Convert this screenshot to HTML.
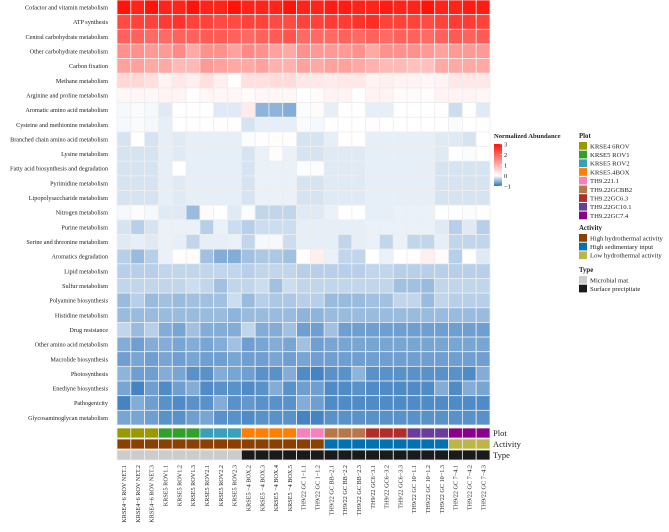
<!DOCTYPE html>
<html><head><meta charset="utf-8"><style>
html,body{margin:0;padding:0;background:#fff;}
svg text{font-family:"Liberation Serif",serif;fill:#222;}
</style></head><body>
<svg id="chart" width="669" height="527" viewBox="0 0 669 527" xmlns="http://www.w3.org/2000/svg">
<g id="cells"></g>
<g id="rowlabels"></g>
<g id="annots"></g>
<g id="collabels"></g>
<g id="legend"></g>
</svg>
<script>
const rows = ["Cofactor and vitamin metabolism","ATP synthesis","Central carbohydrate metabolism","Other carbohydrate metabolism","Carbon fixation","Methane metabolism","Arginine and proline metabolism","Aromatic amino acid metabolism","Cysteine and methionine metabolism","Branched chain amino acid metabolism","Lysine metabolism","Fatty acid biosynthesis and degradation","Pyrimidine metabolism","Lipopolysaccharide metabolism","Nitrogen metabolism","Purine metabolism","Serine and threonine metabolism","Aromatics degradation","Lipid metabolism","Sulfur metabolism","Polyamine biosynthesis","Histidine metabolism","Drug resistance","Other amino acid metabolism","Macrolide biosynthesis","Photosynthesis","Enediyne biosynthesis","Pathogenicity","Glycosaminoglycan metabolism"];
const columns = ["KRSE4\u22126 ROV NET.1","KRSE4\u22126 ROV NET.2","KRSE4\u22126 ROV NET.3","KRSE5 ROV1.1","KRSE5 ROV1.2","KRSE5 ROV1.3","KRSE5 ROV2.1","KRSE5 ROV2.2","KRSE5 ROV2.3","KRSE5 \u22124 BOX.2","KRSE5 \u22124 BOX.3","KRSE5 \u22124 BOX.4","KRSE5 \u22124 BOX.5","TH9/22 GC 1\u22121.1","TH9/22 GC 1\u22121.2","TH9/22 GC BB\u22122.1","TH9/22 GC BB\u22122.2","TH9/22 GC BB\u22122.3","TH9/22 GC6\u22123.1","TH9/22 GC6\u22123.2","TH9/22 GC6\u22123.3","TH9/22 GC 10\u22121.1","TH9/22 GC 10\u22121.2","TH9/22 GC 10\u22121.3","TH9/22 GC 7\u22124.1","TH9/22 GC 7\u22124.2","TH9/22 GC 7\u22124.3"];
const plotGroup = [0,0,0,1,1,1,2,2,2,3,3,3,3,4,4,5,5,5,6,6,6,7,7,7,8,8,8];
const activityGroup = [0,0,0,0,0,0,0,0,0,0,0,0,0,0,0,1,1,1,1,1,1,1,1,1,2,2,2];
const typeGroup = [0,0,0,0,0,0,0,0,0,1,1,1,1,1,1,1,1,1,1,1,1,1,1,1,1,1,1];
const plotNames = ["KRSE4 6ROV","KRSE5 ROV1","KRSE5 ROV2","KRSE5.4BOX","TH9.221.1","TH9.22GCBB2","TH9.22GC6.3","TH9.22GC10.1","TH9.22GC7.4"];
const activityNames = ["High hydrothermal activity","High sedimentary input","Low hydrothermal activity"];
const typeNames = ["Microbial mat","Surface precipitate"];
const colorTicks = [3,2,1,0,-1];
const values = [
[3,2.8,3,2.8,2.8,3,2.8,2.8,3,2.8,2.8,2.8,3,2.8,2.8,2.9,2.9,2.8,2.8,2.9,2.8,2.8,3,2.8,2.8,2.9,2.9],
[2.3,2.4,2.4,2.5,2.6,2.4,2.4,2.3,2.3,2.4,2.4,2.3,2.3,2.4,2.4,2.5,2.5,2.6,2.7,2.4,2.4,2.4,2.3,2.4,2.5,2.5,2.4],
[2.0,2.0,1.9,1.9,2.0,2.0,2.1,2.1,2.0,1.9,2.0,2.1,2.2,1.9,1.9,1.9,2.0,1.9,2.0,1.9,2.0,2.0,1.9,2.0,2.1,2.0,2.1],
[1.4,1.4,1.3,1.3,1.5,1.1,1.4,1.4,1.2,1.5,1.4,1.2,1.1,1.4,1.3,1.3,1.3,1.4,1.1,1.4,1.4,1.4,1.3,1.2,1.3,1.3,1.3],
[1.2,1.2,1.1,1.1,0.9,0.9,1.3,1.2,1.1,1.1,1.2,1.0,1.0,1.2,1.1,1.2,1.2,1.1,1.0,0.9,0.9,0.8,0.8,1.1,1.1,1.1,1.1],
[0.5,0.5,0.4,0.15,0.3,0.2,0.4,0.2,0,0.4,0.4,0.45,0.45,0.3,0.3,0.25,0.3,0.3,0.15,0.2,0.15,0.15,0.1,0.15,0.3,0.3,0.3],
[0.1,0.12,0.1,0.15,0.15,0.02,0.12,0.1,0.1,0.05,0.1,0.12,0.1,0,0.05,0.15,0.15,0,0.15,0.15,0.05,0.05,0.02,0.15,0.15,0.15,0.1],
[-0.05,-0.03,-0.05,-0.15,0,0.02,0,-0.15,-0.15,0.25,-0.55,-0.55,-0.6,-0.02,0.05,-0.12,0,0,-0.12,-0.12,0,0,0,0,-0.25,0,-0.15],
[-0.05,-0.03,-0.05,-0.12,0,0.02,0,0.02,0.03,-0.2,-0.12,-0.12,-0.12,-0.03,-0.05,0,0,0,0.02,0,0,0,0,0,-0.03,0,0],
[-0.2,0,-0.2,-0.12,-0.15,-0.12,-0.12,-0.12,-0.12,-0.02,0.03,0.03,0.03,-0.2,-0.2,-0.12,0,0,-0.12,-0.12,-0.12,-0.12,-0.12,-0.15,-0.15,-0.2,0],
[-0.2,-0.2,-0.2,-0.12,-0.15,-0.12,-0.12,-0.12,-0.12,-0.2,-0.1,0.04,-0.1,-0.2,-0.2,-0.15,-0.15,-0.15,-0.12,-0.12,-0.12,-0.12,-0.12,-0.15,0,-0.02,0],
[-0.2,-0.2,-0.2,-0.12,0,-0.12,-0.12,-0.12,-0.12,-0.2,-0.1,-0.1,-0.1,-0.02,-0.02,-0.15,-0.15,-0.15,-0.12,-0.12,-0.12,-0.12,-0.12,-0.2,-0.2,-0.2,-0.2],
[-0.2,-0.2,-0.2,-0.12,-0.15,-0.12,-0.12,-0.12,-0.12,-0.2,-0.1,-0.1,-0.1,-0.2,-0.2,-0.15,-0.15,-0.15,-0.12,-0.12,-0.12,-0.12,-0.12,-0.2,-0.2,-0.2,-0.2],
[-0.2,-0.2,-0.2,-0.12,-0.15,-0.12,-0.12,-0.12,-0.12,-0.2,-0.1,-0.1,-0.1,-0.2,-0.2,-0.15,-0.15,-0.15,-0.12,-0.12,-0.12,-0.12,-0.12,-0.2,-0.2,-0.2,-0.2],
[-0.05,-0.02,-0.05,-0.15,-0.15,-0.5,0.05,0,-0.15,-0.02,-0.3,-0.3,-0.3,-0.15,-0.15,-0.1,0,0,-0.12,-0.12,-0.1,-0.1,-0.1,0,0,-0.02,0],
[-0.2,-0.35,-0.2,-0.1,-0.1,-0.1,-0.35,-0.1,-0.25,-0.35,-0.25,-0.25,-0.25,-0.12,-0.12,-0.12,-0.12,-0.12,-0.1,-0.1,-0.1,-0.1,-0.1,-0.15,-0.35,-0.15,-0.35],
[-0.15,-0.12,-0.15,-0.1,-0.12,-0.3,-0.12,-0.12,-0.1,-0.3,-0.05,-0.05,-0.25,-0.12,-0.12,-0.12,-0.3,-0.12,-0.1,-0.3,-0.1,-0.3,-0.3,-0.12,-0.3,-0.3,-0.3],
[-0.35,-0.5,-0.35,-0.1,0.02,0.05,-0.45,-0.6,-0.6,-0.45,-0.4,-0.4,-0.45,0,0.2,-0.1,-0.3,-0.3,0,-0.1,0,0.02,0.2,0.05,-0.35,0,-0.15],
[-0.35,-0.35,-0.35,-0.3,-0.3,-0.3,-0.3,-0.3,-0.3,-0.35,-0.3,-0.3,-0.3,-0.35,-0.35,-0.35,-0.35,-0.35,-0.3,-0.3,-0.35,-0.35,-0.35,-0.35,-0.35,-0.35,-0.35],
[-0.3,-0.3,-0.3,-0.3,-0.3,-0.25,-0.3,-0.45,-0.3,-0.3,-0.25,-0.45,-0.25,-0.3,-0.3,-0.3,-0.3,-0.3,-0.3,-0.3,-0.45,-0.45,-0.5,-0.3,-0.3,-0.3,-0.3],
[-0.5,-0.35,-0.5,-0.45,-0.5,-0.45,-0.45,-0.45,-0.25,-0.5,-0.35,-0.4,-0.4,-0.35,-0.35,-0.5,-0.5,-0.5,-0.45,-0.45,-0.3,-0.3,-0.5,-0.3,-0.35,-0.35,-0.35],
[-0.5,-0.5,-0.5,-0.5,-0.5,-0.5,-0.5,-0.5,-0.55,-0.5,-0.5,-0.5,-0.5,-0.55,-0.55,-0.5,-0.5,-0.5,-0.5,-0.5,-0.5,-0.5,-0.5,-0.5,-0.5,-0.5,-0.5],
[-0.3,-0.5,-0.35,-0.6,-0.65,-0.45,-0.6,-0.6,-0.6,-0.3,-0.6,-0.6,-0.45,-0.7,-0.7,-0.45,-0.7,-0.7,-0.7,-0.7,-0.7,-0.7,-0.7,-0.7,-0.7,-0.7,-0.7],
[-0.6,-0.7,-0.6,-0.6,-0.65,-0.6,-0.65,-0.6,-0.45,-0.7,-0.65,-0.6,-0.65,-0.45,-0.7,-0.65,-0.65,-0.65,-0.65,-0.65,-0.65,-0.65,-0.65,-0.65,-0.65,-0.65,-0.65],
[-0.7,-0.65,-0.7,-0.65,-0.7,-0.65,-0.7,-0.7,-0.65,-0.7,-0.7,-0.65,-0.7,-0.65,-0.7,-0.7,-0.7,-0.7,-0.7,-0.7,-0.7,-0.7,-0.7,-0.7,-0.7,-0.7,-0.7],
[-0.55,-0.7,-0.7,-0.6,-0.65,-0.8,-0.8,-0.6,-0.65,-0.7,-0.8,-0.8,-0.6,-0.85,-0.9,-0.8,-0.8,-0.55,-0.8,-0.8,-0.8,-0.8,-0.8,-0.8,-0.8,-0.85,-0.6],
[-0.65,-0.9,-0.7,-0.85,-0.7,-0.6,-0.85,-0.8,-0.8,-0.85,-0.8,-0.6,-0.8,-0.7,-0.7,-0.85,-0.85,-0.8,-0.85,-0.85,-0.85,-0.85,-0.85,-0.6,-0.85,-0.6,-0.65],
[-0.9,-0.6,-0.7,-0.8,-0.85,-0.8,-0.8,-0.6,-0.8,-0.75,-0.8,-0.8,-0.8,-0.6,-0.7,-0.85,-0.85,-0.85,-0.85,-0.85,-0.85,-0.85,-0.85,-0.85,-0.85,-0.85,-0.85],
[-0.65,-0.65,-0.7,-0.8,-0.8,-0.7,-0.65,-0.8,-0.8,-0.85,-0.8,-0.8,-0.8,-0.9,-0.9,-0.8,-0.8,-0.8,-0.8,-0.8,-0.8,-0.8,-0.8,-0.8,-0.8,-0.8,-0.8]
];
const plotColors = ["#999900","#33a02c","#3a9fba","#ff7f00","#f781bf","#b87748","#b22c2c","#6a3d9a","#8b008b"];
const activityColors = ["#8b4000","#0072b2","#bdb642"];
const typeColors = ["#cccccc","#1a1a1a"];
const NS="http://www.w3.org/2000/svg";
const X0=117, X1=490, Y0=0, Y1=425;
const cw=(X1-X0)/columns.length, rh=(Y1-Y0)/rows.length;
const xPos=i=>X0+i*cw, yPos=j=>Y0+j*rh;
function mk(tag,attrs,parent){const e=document.createElementNS(NS,tag);for(const k in attrs)e.setAttribute(k,attrs[k]);parent.appendChild(e);return e;}
function lerp(a,b,t){return Math.round(a+(b-a)*t);}
function colorOf(v){
  if(v>=0){const t=Math.min(v/3,1);return `rgb(255,${lerp(255,20,t)},${lerp(255,10,t)})`;}
  const t=Math.min(-v,1);return `rgb(${lerp(255,48,t)},${lerp(255,118,t)},${lerp(255,188,t)})`;
}
const gC=document.getElementById('cells');
values.forEach((row,j)=>row.forEach((v,i)=>{
  const r=mk('rect',{x:xPos(i),y:yPos(j),width:cw,height:rh,fill:colorOf(v),stroke:'#eeeeee','stroke-width':0.8},gC);
  
  
}));
const gR=document.getElementById('rowlabels');
rows.forEach((n,j)=>{
  const t=mk('text',{x:108,y:yPos(j)+rh/2+2.2,'text-anchor':'end','font-size':6.2},gR);
  t.textContent=n;
  
  
});
const gA=document.getElementById('annots');
const annRows=[[plotGroup,plotColors,428,"Plot"],[activityGroup,activityColors,439,"Activity"],[typeGroup,typeColors,450,"Type"]];
annRows.forEach(([grp,cols,y,name])=>{
  grp.forEach((g,i)=>{
    const r=mk('rect',{x:xPos(i),y:y,width:cw,height:10,fill:cols[g],stroke:'#eeeeee','stroke-width':0.8},gA);
    
    
  });
  const t=mk('text',{x:X1+3,y:y+8,'font-size':8.5},gA);
  t.textContent=name;
  
  
});
const gL=document.getElementById('collabels');
columns.forEach((n,i)=>{
  const cx=xPos(i)+cw/2+2.2;
  const t=mk('text',{x:cx,y:465,transform:`rotate(-90 ${cx} 465)`,'text-anchor':'end','font-size':6.2},gL);
  t.textContent=n;
  
  
});
const gG=document.getElementById('legend');
const defs=mk('defs',{},gG);
const lg=mk('linearGradient',{id:'cg',x1:0,y1:0,x2:0,y2:1},defs);
[[0,3],[0.25,2],[0.5,1],[0.75,0],[1,-1]].forEach(([o,v])=>mk('stop',{offset:o,'stop-color':colorOf(v)},lg));
let t=mk('text',{x:494,y:138,'font-size':6.6,'font-weight':'bold'},gG);t.textContent="Normalized Abundance";


const cbTop=144, cbBot=186;
const cbY=v=>cbTop+(3-v)/4*(cbBot-cbTop);
const cb=mk('rect',{x:494,y:cbTop,width:8,height:cbBot-cbTop,fill:'url(#cg)'},gG);


colorTicks.forEach(v=>{
  const y=cbY(v);
  mk('line',{x1:500,x2:502,y1:y,y2:y,stroke:'#fff','stroke-width':0.6},gG);
  const tt=mk('text',{x:504,y:y+2.5,'font-size':6.5},gG);
  tt.textContent=v<0?'\u2212'+(-v):String(v);
  
  
});
function legendBlock(title,names,cols,y0){
  const h=mk('text',{x:579,y:y0,'font-size':6.8,'font-weight':'bold'},gG);h.textContent=title;
  
  
  names.forEach((n,k)=>{
    const y=y0+4+k*8.7;
    const s=mk('rect',{x:579,y:y,width:8,height:7.7,fill:cols[k]},gG);
    
    
    const tx=mk('text',{x:590,y:y+6.3,'font-size':6.7},gG);tx.textContent=n;
    
    
  });
}
legendBlock("Plot",plotNames,plotColors,138);
legendBlock("Activity",activityNames,activityColors,230);
legendBlock("Type",typeNames,typeColors,272);
</script>
</body></html>
